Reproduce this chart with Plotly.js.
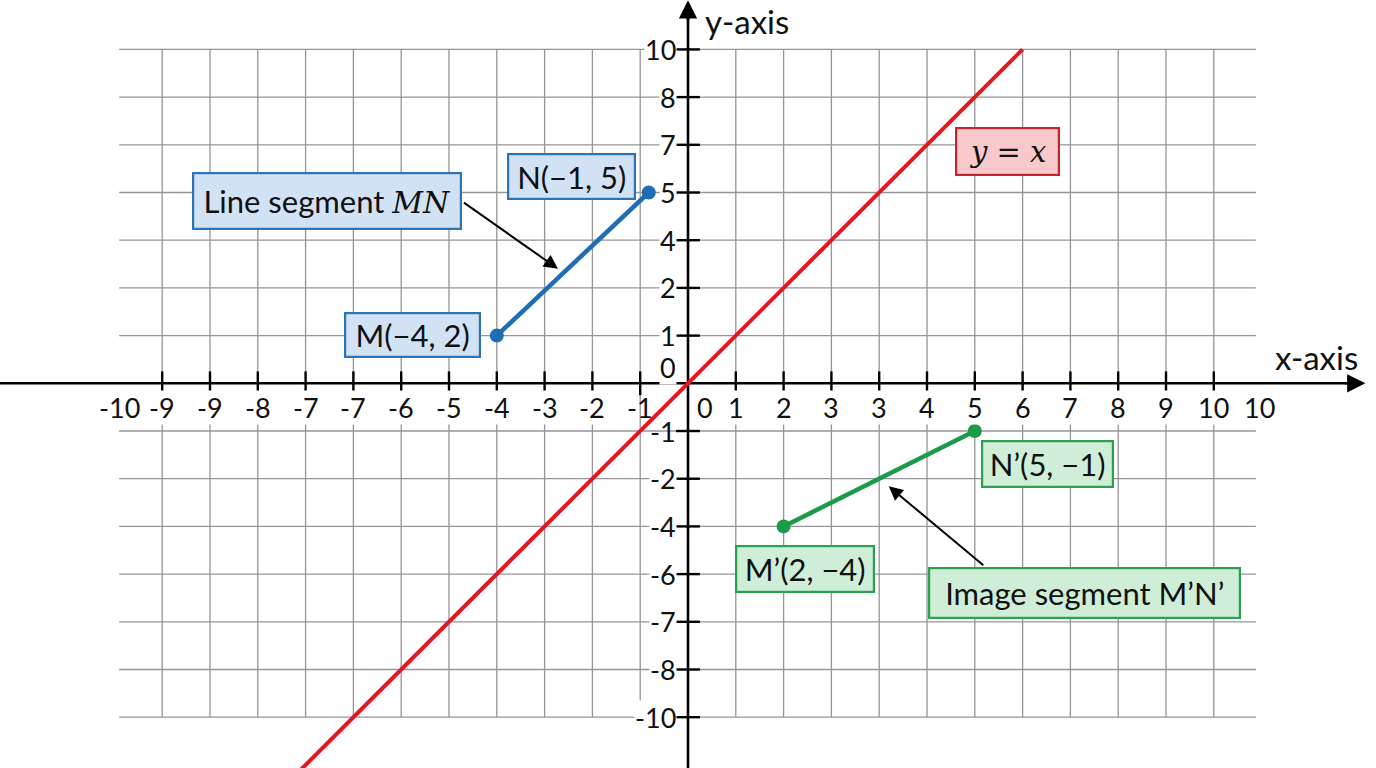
<!DOCTYPE html>
<html>
<head>
<meta charset="utf-8">
<script src="https://cdn.plot.ly/plotly-3.0.1.min.js"></script>
<style>html,body{margin:0;padding:0;background:#fff;}#chart{width:1376px;height:768px;}</style>
</head>
<body>
<div id="chart"></div>
<script>
// ---- data (axis units = grid squares) ----
const xTickVals = [-11,-10,-9,-8,-7,-6,-5,-4,-3,-2,-1,1,2,3,4,5,6,7,8,9,10,11];
const yTickVals = [-7,-6,-5,-4,-3,-2,-1,1,2,3,4,5,6,7];
const xLabelPos = [-11.9,-11,-10,-9,-8,-7,-6,-5,-4,-3,-2,-1,0.36,1,2,3,4,5,6,7,8,9,10,11,11.95];
const xLabelText = ['-10','-9','-9','-8','-7','-7','-6','-5','-4','-3','-2','-1','0','1','2','3','3','4','5','6','7','8','9','10','10'];
const yLabelPos = [-7,-6,-5,-4,-3,-2,-1,0.34,1,2,3,4,5,6,7];
const yLabelText = ['-10','-8','-7','-6','-4','-2','-1','0','1','2','4','5','7','8','10'];
const gridX = [-11,-10,-9,-8,-7,-6,-5,-4,-3,-2,-1,1,2,3,4,5,6,7,8,9,10,11];
const gridY = [-7,-6,-5,-4,-3,-2,-1,1,2,3,4,5,6,7];
const gridXExtent = [-11.9, 11.88];
const gridYExtent = [-7, 7];
const lineYX = [-8.1, 7];
const segMN_x = [-4, -0.82];
const segMN_y = [1, 4];
const segImg_x = [2, 6];
const segImg_y = [-3, -1];
const pointLabels = ['M(−4, 2)', 'N(−1, 5)', 'M’(2, −4)', 'N’(5, −1)'];

const RED = '#e8161b', BLUE = '#1f6db5', GREEN = '#1b9a4a';
const FONT = 'Lato, "Open Sans", sans-serif';
const SERIF = "DejaVu Serif, Liberation Serif, serif";

const shapes = [];
gridY.forEach(v => shapes.push({type:'line', xref:'x', yref:'y', x0:gridXExtent[0], x1:gridXExtent[1], y0:v, y1:v, layer:'below', line:{color:'#959595', width:1.3}}));
gridX.forEach(v => shapes.push({type:'line', xref:'x', yref:'y', x0:v, x1:v, y0:gridYExtent[0], y1:gridYExtent[1], layer:'below', line:{color:'#959595', width:1.3}}));

const traces = [
  {x:[-14.5, 14.05], y:[0,0], mode:'lines', line:{color:'#000', width:2.6}, hoverinfo:'skip'},
  {x:[0,0], y:[-8.2, 7.85], mode:'lines', line:{color:'#000', width:2.6}, hoverinfo:'skip'},
  {x:xTickVals, y:xTickVals.map(()=>0), mode:'markers', marker:{symbol:'line-ns-open', size:17, color:'#000', line:{color:'#000', width:2.4}}, hoverinfo:'skip'},
  {x:yTickVals.map(()=>0), y:yTickVals, mode:'markers', marker:{symbol:'line-ew-open', size:17, color:'#000', line:{color:'#000', width:2.4}}, hoverinfo:'skip'},
  {x:lineYX, y:lineYX, mode:'lines', line:{color:RED, width:4}, hoverinfo:'skip'},
  {x:segMN_x, y:segMN_y, mode:'lines+markers', line:{color:BLUE, width:4.5}, marker:{color:BLUE, size:14}, hoverinfo:'skip'},
  {x:segImg_x, y:segImg_y, mode:'lines+markers', line:{color:GREEN, width:4.5}, marker:{color:GREEN, size:14}, hoverinfo:'skip'}
];

const ann = [];
xLabelText.forEach((t,i) => ann.push({x:xLabelPos[i], y:-0.5, xref:'x', yref:'y', text:t, showarrow:false, xanchor:'center', yanchor:'middle',
  bgcolor: (xLabelPos[i] === -1 ? 'rgba(0,0,0,0)' : '#fff'), borderpad:0, font:{family:FONT, size:27, color:'#111'}}));
yLabelText.forEach((t,i) => ann.push({x:-0.24, y:yLabelPos[i], xref:'x', yref:'y', text:t, showarrow:false, xanchor:'right', yanchor:'middle',
  bgcolor: (yLabelPos[i] === -1 ? 'rgba(0,0,0,0)' : '#fff'), borderpad:0, font:{family:FONT, size:27, color:'#111'}}));

// axis arrowheads
ann.push({x:14.17, y:0, xref:'x', yref:'y', text:'', showarrow:true, ax:-22, ay:0, arrowhead:2, arrowsize:1.4, arrowwidth:2.6, arrowcolor:'#000', standoff:0});
ann.push({x:0, y:8.03, xref:'x', yref:'y', text:'', showarrow:true, ax:0, ay:22, arrowhead:2, arrowsize:1.4, arrowwidth:2.6, arrowcolor:'#000', standoff:0});
// axis titles
ann.push({x:14.06, y:0.55, xref:'x', yref:'y', text:'x-axis', showarrow:false, xanchor:'right', yanchor:'middle', font:{family:FONT, size:33, color:'#111'}});
ann.push({x:0.31, y:7.6, xref:'x', yref:'y', text:'y-axis', showarrow:false, xanchor:'left', yanchor:'middle', font:{family:FONT, size:33, color:'#111'}});

// pointer arrows
ann.push({x:-2.72, y:2.40, ax:-4.72, ay:3.81, xref:'x', yref:'y', axref:'x', ayref:'y', text:'', showarrow:true, arrowhead:2, arrowsize:1.4, arrowwidth:2, arrowcolor:'#000', standoff:0});
ann.push({x:4.20, y:-2.16, ax:6.21, ay:-3.84, xref:'x', yref:'y', axref:'x', ayref:'y', text:'', showarrow:true, arrowhead:2, arrowsize:1.4, arrowwidth:2, arrowcolor:'#000', standoff:0});

function box(x, y, text, W, H, fill, border) {
  ann.push({x:x, y:y, xref:'x', yref:'y', text:text, showarrow:false, xanchor:'center', yanchor:'middle',
    width:W-8, height:H-8, align:'center', valign:'middle', bgcolor:fill, bordercolor:border, borderwidth:2.2, borderpad:2,
    font:{family:FONT, size:31, color:'#111'}});
}
box(-7.55, 3.82, 'Line segment <span style="font-family:' + SERIF + ';font-size:30px"><i>MN</i></span>', 270, 58, '#d0e2f4', '#2e74b5');
box(-2.43, 4.34, pointLabels[1], 129, 47, '#d0e2f4', '#2e74b5');
box(-5.76, 1.01, pointLabels[0], 137, 46, '#d0e2f4', '#2e74b5');
box(6.68, 4.86, '<span style="font-family:' + SERIF + ';font-size:29px"><i>y</i> = <i>x</i></span>', 105, 49, '#f9c8cb', '#c0262d');
box(7.53, -1.69, pointLabels[3], 133, 48, '#cfeed7', '#2ca04f');
box(2.45, -3.89, pointLabels[2], 140, 48, '#cfeed7', '#2ca04f');
box(8.29, -4.40, 'Image segment M’N’', 313, 52, '#cfeed7', '#2ca04f');

const layout = {
  width:1376, height:768, margin:{l:0, r:0, t:0, b:0},
  paper_bgcolor:'#fff', plot_bgcolor:'#fff', showlegend:false,
  xaxis:{range:[-14.393, 14.393], visible:false, fixedrange:true},
  yaxis:{range:[-8.065, 8.036], visible:false, fixedrange:true},
  shapes:shapes, annotations:ann
};
Plotly.newPlot('chart', traces, layout, {displayModeBar:false, staticPlot:true});
</script>
</body>
</html>
